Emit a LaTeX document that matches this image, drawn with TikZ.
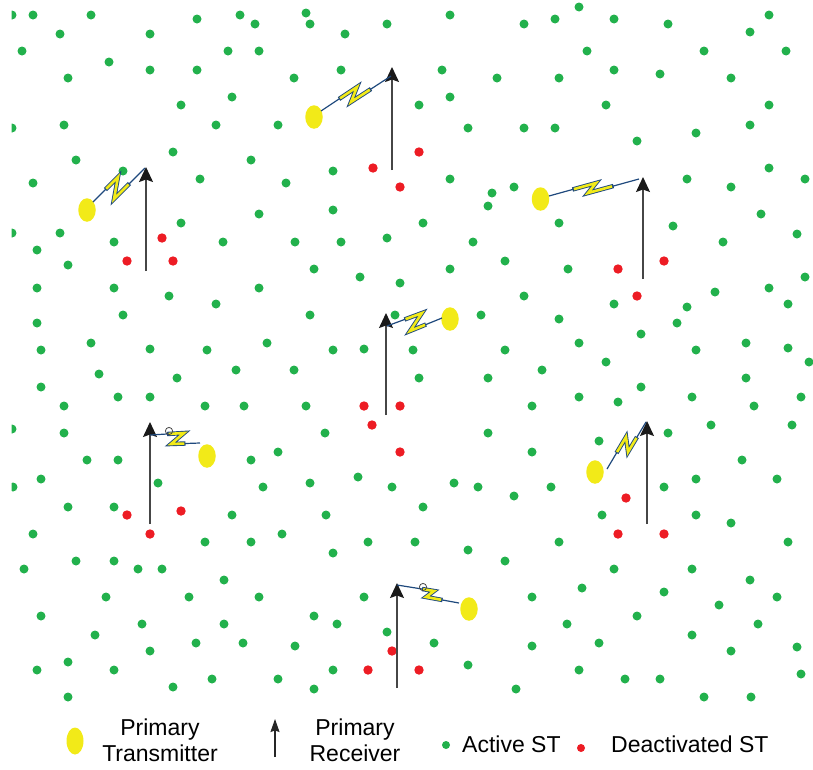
\documentclass[tikz,border=0pt]{standalone}
\usepackage{fontspec}
\setmainfont{Liberation Sans}
\usetikzlibrary{shapes.geometric,arrows.meta,calc}
\definecolor{stgreen}{RGB}{34,177,76}
\definecolor{stred}{RGB}{237,28,36}
\definecolor{ptyellow}{RGB}{242,234,24}
\definecolor{boltblue}{RGB}{31,73,125}
\definecolor{rxgray}{RGB}{70,70,70}
\begin{document}
\begin{tikzpicture}[x=1pt,y=-1pt,
  tx/.style={ellipse,fill=ptyellow,draw=none,minimum width=17.5pt,minimum height=23.5pt,inner sep=0pt},
  rx/.style={draw=rxgray,line width=1.4pt,-{Stealth[length=15pt,width=14pt,inset=2.5pt,color=black!90,fill=black!90]}},
  boltthin/.style={draw=boltblue,line width=1.2pt,line join=miter},
  boltedge/.style={draw=boltblue,line width=4.4pt,line join=miter,line cap=butt},
  boltfill/.style={draw=ptyellow,line width=2.6pt,line join=miter,line cap=butt},
  ring/.style={draw=rxgray,line width=0.8pt},
  lbl/.style={font=\fontsize{23}{26}\selectfont,inner sep=0pt}]
\useasboundingbox (0,0) rectangle (813,769);
% active secondary transmitters
\begin{scope}
\clip (11.6,-10) rectangle (830,710);
\foreach \x/\y in {
12/15,33/15,91/15,197/19,240/15,255/24,60/34,150/34,22/51,228/51,259/51,109/62,150/70,197/70,68/78,232/97,181/105,
12/128,64/125,216/125,173/152,76/160,251/160,123/171,33/183,200/179,259/214,12/233,60/233,181/223,114/242,223/242,
37/250,68/265,37/288,114/288,169/296,259/288,216/304,37/323,123/315,91/343,267/343,
306/13,310/24,345/34,387/24,450/15,524/24,294/78,341/70,442/70,497/78,450/97,419/105,278/125,468/128,524/128,
333/171,286/183,450/179,492/193,514/187,488/206,333/210,423/223,295/242,341/242,387/238,473/242,505/261,314/269,
360/277,400/283,450/269,524/296,310/315,395/315,481/315,
579/7,555/19,614/19,668/24,769/15,750/32,587/51,704/51,786/51,559/78,614/70,660/74,731/78,606/105,769/105,555/128,
750/125,696/133,637/141,769/168,805/179,687/179,731/187,559/223,673/226,761/214,797/234,723/242,568/269,715/292,
769/288,805/277,614/304,687/307,788/304,559/319,677/323,641/334,579/343,746/343,
41/350,150/349,207/350,99/374,177/378,236/370,41/387,118/397,150/397,64/406,205/406,244/406,12/429,64/433,87/460,
118/460,251/460,41/479,13/487,158/483,263/487,68/507,114/507,232/515,33/534,205/542,251/542,76/561,114/561,24/569,
138/569,162/569,224/580,106/597,189/597,259/597,41/616,142/624,224/624,95/635,196/643,243/643,150/651,68/662,37/670,
114/670,212/679,173/687,68/697,
333/350,364/349,413/350,505/350,542/370,294/370,419/378,488/378,306/406,532/406,325/433,488/433,278/452,532/452,
310/483,358/477,392/487,454/483,478/487,514/496,423/507,326/515,282/534,368/542,415/542,333/553,468/550,505/561,
364/597,532/597,314/616,337/624,387/632,295/646,434/643,532/646,333/670,468/665,278/679,314/689,516/689,
696/350,788/348,606/362,809/362,641/387,746/378,579/397,618/402,692/397,801/397,754/406,711/425,792/425,668/433,
599/441,742/460,696/479,777/479,551/487,664/487,602/515,696/515,731/523,559/542,788/542,614/569,692/569,750/580,
582/588,664/592,719/605,777/597,637/616,567/624,758/624,692/635,599/643,731/651,797/647,579/670,625/679,660/679,
801/674,704/697,751/697}
  \fill[stgreen] (\x,\y) circle[radius=4.5pt];
\end{scope}
% deactivated secondary transmitters
\foreach \x/\y in {162/238,127/261,173/261,419/152,373/168,400/187,618/269,664/261,637/296,
364/406,400/406,372/425,400/452,127/515,181/511,150/534,626/498,618/534,664/534,392/651,368/670,419/670}
  \fill[stred] (\x,\y) circle[radius=4.7pt];
% primary receivers
\foreach \n/\x/\t/\b in {1/146/167/271,2/392/67/170,3/643/177/279,4/386/313/415,5/150/422/524,6/647/421/524,7/397/583/688}{
  \coordinate (rb\n) at (\x,\b);
  \coordinate (rt\n) at (\x,\t);
  \draw[rx] (rb\n) -- (rt\n);
}
% primary transmitters
\node[tx] (t1) at (87,210) {};
\node[tx] (t2) at (314,117) {};
\node[tx] (t3) at (540.5,199) {};
\node[tx] (t4) at (450,319) {};
\node[tx] (t5) at (207,456) {};
\node[tx] (t6) at (595,472) {};
\node[tx] (t7) at (469,609) {};
% N-shaped bolts: left end, upper point, lower point, right end
\foreach \n/\ax/\ay/\px/\py/\qx/\qy/\bx/\by in {
  1/93/202/118/177/114/199/145/168,
  2/321/111/357/87/351/102/391/76,
  3/549/196/596/183/588/193/639/179,
  4/387/326/422/313/410/331/442/318,
  6/607/469/626/437/628/452/646/422}{
  \coordinate (ba\n) at (\ax,\ay);
  \coordinate (bp\n) at (\px,\py);
  \coordinate (bq\n) at (\qx,\qy);
  \coordinate (bb\n) at (\bx,\by);
  \draw[boltthin] (ba\n) -- (bp\n) -- (bq\n) -- (bb\n);
  \draw[boltedge] ($(ba\n)!0.5!(bp\n)$) -- (bp\n) -- (bq\n) -- ($(bq\n)!0.5!(bb\n)$);
  \draw[boltfill] ($(ba\n)!0.53!(bp\n)$) -- (bp\n) -- (bq\n) -- ($(bq\n)!0.47!(bb\n)$);
}
% Z-shaped bolts with small ring
\coordinate (za5) at (150,435); \coordinate (zb5) at (167,434); \coordinate (zc5) at (184,433);
\coordinate (zd5) at (171,444); \coordinate (ze5) at (200,443);
\coordinate (za7) at (397,585); \coordinate (zb7) at (422,589); \coordinate (zc7) at (434,591);
\coordinate (zd7) at (426,597); \coordinate (ze7) at (459,603);
\foreach \n in {5,7}{
  \draw[boltthin] (za\n) -- (zb\n) -- (zc\n) -- (zd\n) -- (ze\n);
  \draw[boltedge] (zb\n) -- (zc\n) -- (zd\n) -- ($(zd\n)!0.5!(ze\n)$);
  \draw[boltfill] ($(zb\n)!0.1!(zc\n)$) -- (zc\n) -- (zd\n) -- ($(zd\n)!0.46!(ze\n)$);
}
\draw[ring] (169,431) circle[radius=3.6pt];
\draw[ring] (423,587) circle[radius=3.6pt];
% legend
\node[tx,minimum height=27pt,minimum width=17pt] (lt) at (75,741) {};
\node[lbl,align=center] (ltx) at (160,740.5) {Primary\\Transmitter};
\coordinate (lrb) at (275,757); \coordinate (lrt) at (275,719);
\draw[draw=black!85,line width=1.1pt,-{Stealth[length=13pt,width=9pt,inset=1.5pt]}] (lrb) -- (lrt);
\node[lbl,align=center] (lrx) at (355,740.5) {Primary\\Receiver};
\fill[stgreen] (446,745) circle[radius=4pt];
\node[lbl,anchor=base west] (lax) at (462,752) {Active ST};
\fill[stred] (581,748) circle[radius=4pt];
\node[lbl,anchor=base west] (ldx) at (611,752) {Deactivated ST};
\end{tikzpicture}
\end{document}
